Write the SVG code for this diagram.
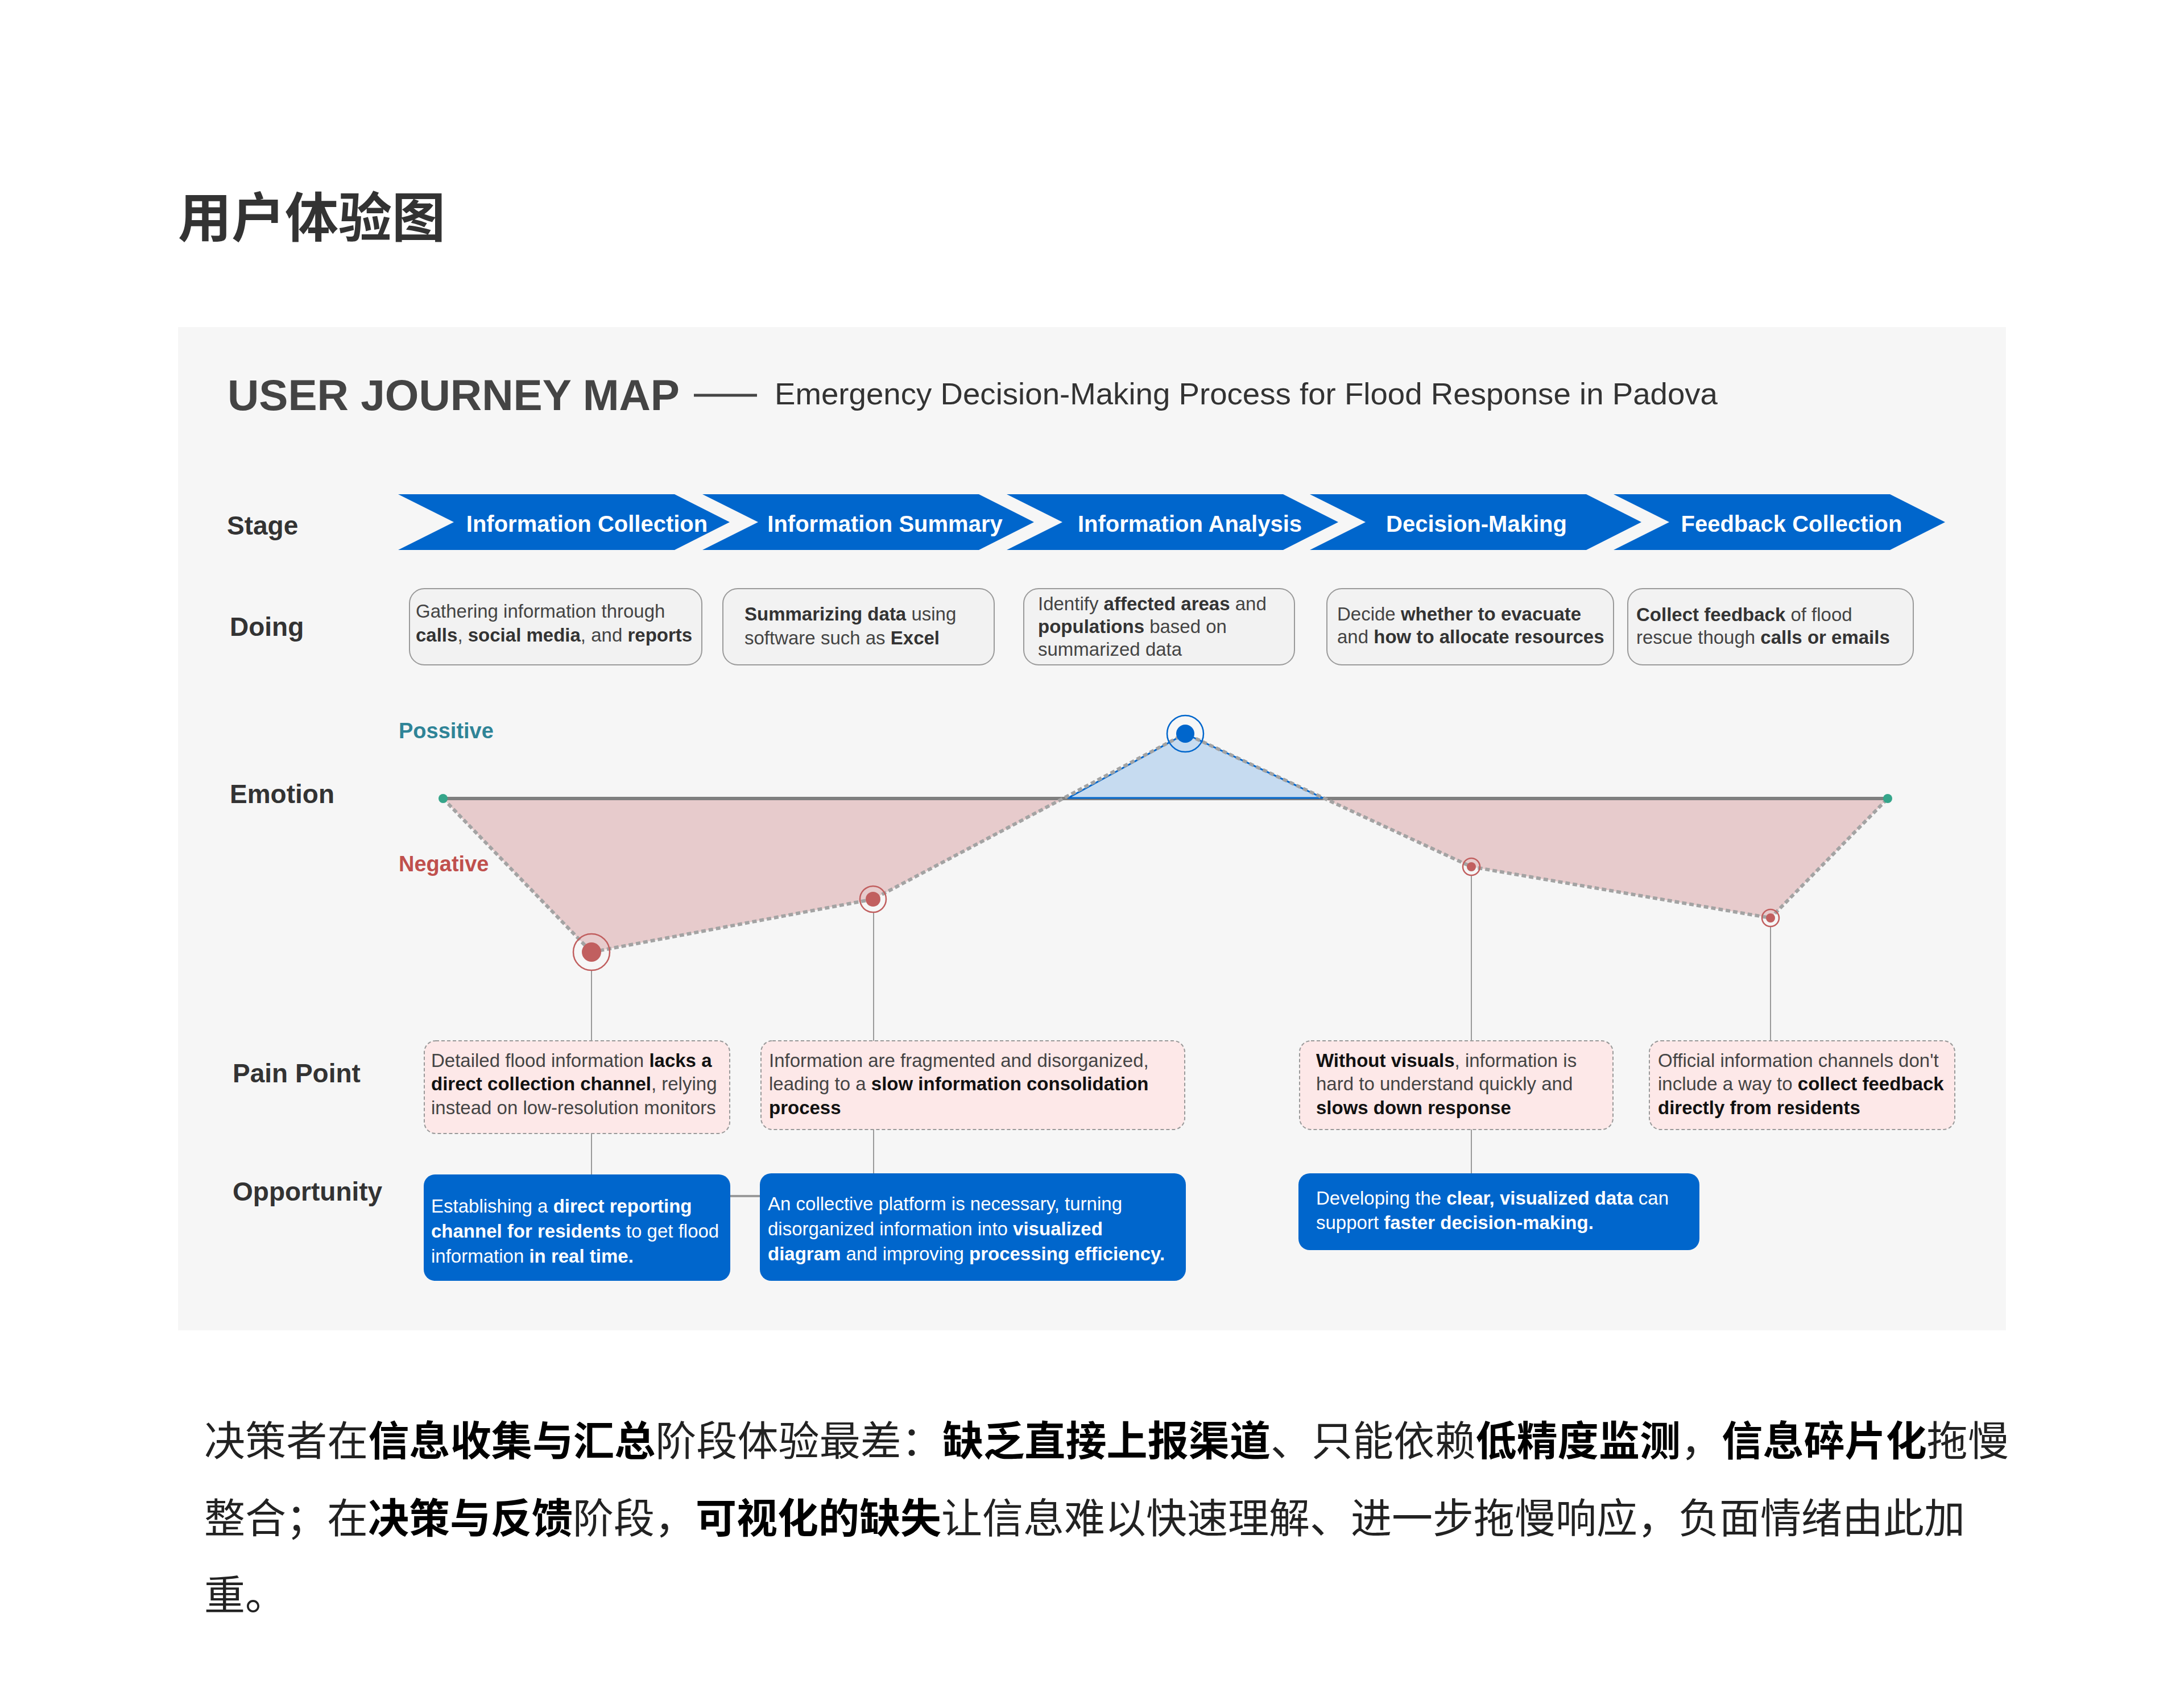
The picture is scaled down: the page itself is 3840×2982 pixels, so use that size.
<svg xmlns="http://www.w3.org/2000/svg" width="3840" height="2982" viewBox="0 0 3840 2982">
<style>
.cn{font-family:"Noto Sans CJK SC","Noto Sans CJK JP",sans-serif}
.en{font-family:"Liberation Sans",Arial,sans-serif}
.lbl{font-family:"Liberation Sans",Arial,sans-serif;font-weight:700;font-size:46px;fill:#333}
.stg{font-family:"Liberation Sans",Arial,sans-serif;font-weight:700;font-size:40px;fill:#fff;text-anchor:middle}
.chev{fill:#0066cc}
.doing{fill:#f2f2f2;stroke:#9a9a9a;stroke-width:2}
.t{font-family:"Liberation Sans",Arial,sans-serif;font-size:33px;fill:#444}
.b{font-weight:700;fill:#333}
.pb{font-weight:700;fill:#111}
.pain{fill:#fde8e8;stroke:#999;stroke-width:2;stroke-dasharray:6 4}
.opp{fill:#0066cc}
.tw{fill:#fff}
.conn{stroke:#9a9a9a;stroke-width:2;fill:none}
.ring{fill:none;stroke:#c15f5f;stroke-width:2.5}
.dot{fill:#c15f5f}
</style>
<rect x="0" y="0" width="3840" height="2982" fill="#ffffff"/>
<text class="cn" x="313" y="417" font-size="94" font-weight="700" fill="#333">用户体验图</text>
<rect x="313" y="575" width="3214" height="1764" fill="#f6f6f6"/>
<text class="en" x="400" y="721" font-size="76" font-weight="700" fill="#444" textLength="795" lengthAdjust="spacingAndGlyphs">USER JOURNEY MAP</text>
<line x1="1220" y1="695" x2="1331" y2="695" stroke="#444" stroke-width="5"/>
<text class="en" x="1362" y="711" font-size="54" fill="#333" textLength="1658" lengthAdjust="spacingAndGlyphs">Emergency Decision-Making Process for Flood Response in Padova</text>

<g id="row-labels">
<text class="lbl" x="399" y="940">Stage</text>
<text class="lbl" x="404" y="1118">Doing</text>
<text class="lbl" x="404" y="1412">Emotion</text>
<text class="lbl" x="409" y="1903">Pain Point</text>
<text class="lbl" x="409" y="2111">Opportunity</text>
</g>

<g id="stage-1"><path class="chev" d="M700,869 L1186,869 L1283,918 L1186,967 L700,967 L798,918 Z"/><text class="stg" x="1032" y="935">Information Collection</text></g>
<g id="stage-2"><path class="chev" d="M1235,869 L1721,869 L1818,918 L1721,967 L1235,967 L1333,918 Z"/><text class="stg" x="1556" y="935">Information Summary</text></g>
<g id="stage-3"><path class="chev" d="M1770,869 L2256,869 L2353,918 L2256,967 L1770,967 L1868,918 Z"/><text class="stg" x="2092" y="935">Information Analysis</text></g>
<g id="stage-4"><path class="chev" d="M2303,869 L2789,869 L2886,918 L2789,967 L2303,967 L2401,918 Z"/><text class="stg" x="2596" y="935">Decision-Making</text></g>
<g id="stage-5"><path class="chev" d="M2837,869 L3323,869 L3420,918 L3323,967 L2837,967 L2935,918 Z"/><text class="stg" x="3150" y="935">Feedback Collection</text></g>

<g id="doing-1"><rect class="doing" x="720" y="1035" width="514" height="134" rx="26"/>
<text class="t" x="731" y="1086">Gathering information through</text>
<text class="t" x="731" y="1128"><tspan class="b">calls</tspan>, <tspan class="b">social media</tspan>, and <tspan class="b">reports</tspan></text></g>
<g id="doing-2"><rect class="doing" x="1271" y="1035" width="477" height="134" rx="26"/>
<text class="t" x="1309" y="1091"><tspan class="b">Summarizing data</tspan> using</text>
<text class="t" x="1309" y="1133">software such as <tspan class="b">Excel</tspan></text></g>
<g id="doing-3"><rect class="doing" x="1800" y="1035" width="476" height="134" rx="26"/>
<text class="t" x="1825" y="1073">Identify <tspan class="b">affected areas</tspan> and</text>
<text class="t" x="1825" y="1113"><tspan class="b">populations</tspan> based on</text>
<text class="t" x="1825" y="1153">summarized data</text></g>
<g id="doing-4"><rect class="doing" x="2333" y="1035" width="504" height="134" rx="26"/>
<text class="t" x="2351" y="1091">Decide <tspan class="b">whether to evacuate</tspan></text>
<text class="t" x="2351" y="1131">and <tspan class="b">how to allocate resources</tspan></text></g>
<g id="doing-5"><rect class="doing" x="2862" y="1035" width="502" height="134" rx="26"/>
<text class="t" x="2877" y="1092"><tspan class="b">Collect feedback</tspan> of flood</text>
<text class="t" x="2877" y="1132">rescue though <tspan class="b">calls or emails</tspan></text></g>

<g id="emotion-labels">
<text class="en" x="701" y="1298" font-size="38" font-weight="700" fill="#2f8497">Possitive</text>
<text class="en" x="701" y="1532" font-size="38" font-weight="700" fill="#c0504d">Negative</text>
</g>

<g id="emotion-curve">
<polygon points="779,1404 1040,1674 1535,1581 1872,1404" fill="#e7cbcc"/>
<polygon points="2328,1404 2587,1524 3113,1614 3319,1404" fill="#e7cbcc"/>
<line x1="779" y1="1404" x2="3319" y2="1404" stroke="#7f7f7f" stroke-width="6"/>
<polygon points="1878,1403 2084,1290 2326,1403" fill="#c6dbf0" stroke="#0066cc" stroke-width="3" stroke-linejoin="round"/>
<polyline points="779,1404 1040,1674 1535,1581 2084,1290 2587,1524 3113,1614 3319,1404" fill="none" stroke="#a3a3a3" stroke-width="6" stroke-dasharray="8 5"/>
</g>

<g id="connectors">
<line class="conn" x1="1040" y1="1706" x2="1040" y2="1830"/>
<line class="conn" x1="1040" y1="1993" x2="1040" y2="2065"/>
<line class="conn" x1="1536" y1="1604" x2="1536" y2="1830"/>
<line class="conn" x1="1536" y1="1986" x2="1536" y2="2063"/>
<line class="conn" x1="2587" y1="1539" x2="2587" y2="1830"/>
<line class="conn" x1="2587" y1="1986" x2="2587" y2="2063"/>
<line class="conn" x1="3113" y1="1629" x2="3113" y2="1830"/>
<line x1="1284" y1="2103" x2="1336" y2="2103" stroke="#9a9a9a" stroke-width="4"/>
</g>

<g id="emotion-start"><circle cx="779" cy="1404" r="8" fill="#35a58a"/></g>
<g id="emotion-end"><circle cx="3319" cy="1404" r="8" fill="#35a58a"/></g>
<g id="emotion-p1"><circle class="ring" cx="1040" cy="1674" r="32"/><circle class="dot" cx="1040" cy="1674" r="17"/></g>
<g id="emotion-p2"><circle class="ring" cx="1535" cy="1581" r="23"/><circle class="dot" cx="1535" cy="1581" r="13"/></g>
<g id="emotion-p3"><circle cx="2084" cy="1290" r="32" fill="none" stroke="#0066cc" stroke-width="2.5"/><circle cx="2084" cy="1290" r="16" fill="#0066cc"/></g>
<g id="emotion-p4"><circle class="ring" cx="2587" cy="1524" r="15"/><circle class="dot" cx="2587" cy="1524" r="8"/></g>
<g id="emotion-p5"><circle class="ring" cx="3113" cy="1614" r="15"/><circle class="dot" cx="3113" cy="1614" r="8"/></g>

<g id="pain-1"><rect class="pain" x="746" y="1830" width="537" height="163" rx="20"/>
<text class="t" x="758" y="1876">Detailed flood information <tspan class="pb">lacks a</tspan></text>
<text class="t" x="758" y="1917"><tspan class="pb">direct collection channel</tspan>, relying</text>
<text class="t" x="758" y="1959">instead on low-resolution monitors</text></g>
<g id="pain-2"><rect class="pain" x="1338" y="1830" width="745" height="156" rx="20"/>
<text class="t" x="1352" y="1876">Information are fragmented and disorganized,</text>
<text class="t" x="1352" y="1917">leading to a <tspan class="pb">slow information consolidation</tspan></text>
<text class="t" x="1352" y="1959"><tspan class="pb">process</tspan></text></g>
<g id="pain-3"><rect class="pain" x="2285" y="1830" width="551" height="156" rx="20"/>
<text class="t" x="2314" y="1876"><tspan class="pb">Without visuals</tspan>, information is</text>
<text class="t" x="2314" y="1917">hard to understand quickly and</text>
<text class="t" x="2314" y="1959"><tspan class="pb">slows down response</tspan></text></g>
<g id="pain-4"><rect class="pain" x="2900" y="1830" width="537" height="156" rx="20"/>
<text class="t" x="2915" y="1876">Official information channels don't</text>
<text class="t" x="2915" y="1917">include a way to <tspan class="pb">collect feedback</tspan></text>
<text class="t" x="2915" y="1959"><tspan class="pb">directly from residents</tspan></text></g>

<g id="opportunity-1"><rect class="opp" x="745" y="2065" width="539" height="187" rx="20"/>
<text class="t tw" x="758" y="2132">Establishing a <tspan font-weight="700">direct reporting</tspan></text>
<text class="t tw" x="758" y="2176"><tspan font-weight="700">channel for residents</tspan> to get flood</text>
<text class="t tw" x="758" y="2220">information <tspan font-weight="700">in real time.</tspan></text></g>
<g id="opportunity-2"><rect class="opp" x="1336" y="2063" width="749" height="189" rx="20"/>
<text class="t tw" x="1350" y="2128">An collective platform is necessary, turning</text>
<text class="t tw" x="1350" y="2172">disorganized information into <tspan font-weight="700">visualized</tspan></text>
<text class="t tw" x="1350" y="2216"><tspan font-weight="700">diagram</tspan> and improving <tspan font-weight="700">processing efficiency.</tspan></text></g>
<g id="opportunity-3"><rect class="opp" x="2283" y="2063" width="705" height="135" rx="20"/>
<text class="t tw" x="2314" y="2118">Developing the <tspan font-weight="700">clear, visualized data</tspan> can</text>
<text class="t tw" x="2314" y="2161">support <tspan font-weight="700">faster decision-making.</tspan></text></g>

<g id="summary" class="cn" font-size="72" fill="#222">
<text x="359" y="2559" textLength="3173" lengthAdjust="spacing">决策者在<tspan font-weight="700" fill="#000">信息收集与汇总</tspan>阶段体验最差：<tspan font-weight="700" fill="#000">缺乏直接上报渠道</tspan>、只能依赖<tspan font-weight="700" fill="#000">低精度监测</tspan>，<tspan font-weight="700" fill="#000">信息碎片化</tspan>拖慢</text>
<text x="359" y="2695">整合；在<tspan font-weight="700" fill="#000">决策与反馈</tspan>阶段，<tspan font-weight="700" fill="#000">可视化的缺失</tspan>让信息难以快速理解、进一步拖慢响应，负面情绪由此加</text>
<text x="359" y="2830">重。</text>
</g>
</svg>
